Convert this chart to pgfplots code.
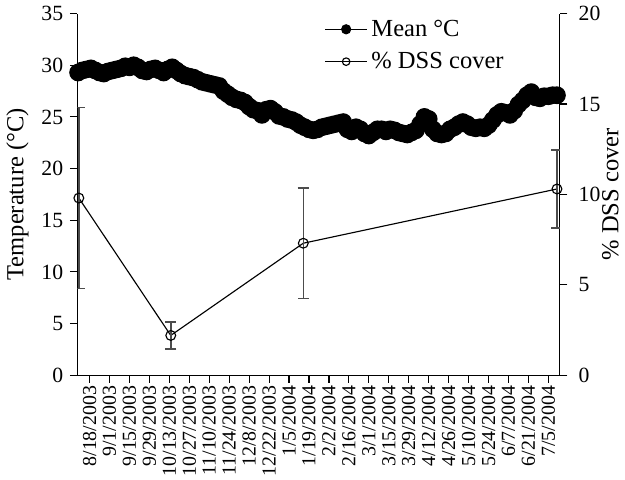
\documentclass[border=0pt]{standalone}
\usepackage{fontspec}
\setmainfont{Liberation Serif}
\usepackage{pgfplots}
\pgfplotsset{compat=1.18}
\usepackage{pgfplotstable}

\pgfplotstableread{
day temp
-8 29.3
-5 29.5
-2 29.6
1 29.7
4 29.5
7 29.3
10 29.2
13 29.4
16 29.5
19 29.6
22 29.7
25 29.9
28 29.8
31 30.0
34 29.8
37 29.5
40 29.4
43 29.6
46 29.7
49 29.5
52 29.3
55 29.6
58 29.8
61 29.5
64 29.2
67 29.0
70 28.9
73 28.8
76 28.6
79 28.4
82 28.3
85 28.2
88 28.1
91 28.0
94 27.5
97 27.2
100 26.9
103 26.7
106 26.6
109 26.4
112 26.0
115 25.7
118 25.6
121 25.2
124 25.7
127 25.8
130 25.5
133 25.1
136 25.0
139 24.8
142 24.7
145 24.5
148 24.2
151 24.0
154 23.8
157 23.7
160 23.8
163 24.0
166 24.1
169 24.2
172 24.3
175 24.4
178 24.5
181 23.8
184 23.6
187 24.0
190 23.8
193 23.4
196 23.2
199 23.5
202 23.8
205 23.8
208 23.6
211 23.8
214 23.7
217 23.5
220 23.4
223 23.3
226 23.5
229 23.7
232 24.3
235 25.0
238 24.8
241 23.8
244 23.4
247 23.3
250 23.4
253 23.8
256 24.0
259 24.3
262 24.5
265 24.3
268 24.0
271 23.9
274 24.0
277 23.9
280 24.2
283 24.7
286 25.2
289 25.5
292 25.4
295 25.2
298 25.6
301 26.2
304 26.6
307 27.1
310 27.4
313 26.9
316 26.8
319 27.0
322 27.0
325 27.1
328 27.1
}\temptable

\pgfplotstableread{
day dss err
-7.5 9.8 5.0
57 2.2 0.75
150 7.3 3.05
328 10.3 2.15
}\dsstable

\pgfplotsset{
  common/.style={
    scale only axis,
    width=255.6pt, height=191.6pt,
    xmin=-8.5, xmax=330,
    tick align=outside,
    major tick length=4pt,
    tick style={black, line width=0.6pt},
    axis line style={line width=0.6pt},
    /pgf/number format/assume math mode=true,
    label style={font=\fontsize{13}{15}\selectfont},
    y tick label style={font=\fontsize{11.5}{13}\selectfont},
  },
  legend image code/.code={\draw[mark repeat=2,mark phase=2,#1] plot coordinates {(0cm,0cm)(0.39cm,0cm)(0.78cm,0cm)};},
}

\begin{document}
\begin{tikzpicture}
\begin{axis}[common,
  axis x line*=bottom, axis y line*=left,
  ymin=0, ymax=35, ytick={0,5,...,35},
  ylabel={Temperature (°C)},
  xtick={0,14,...,322},
  xticklabels={8/18/2003,9/1/2003,9/15/2003,9/29/2003,10/13/2003,10/27/2003,11/10/2003,11/24/2003,12/8/2003,12/22/2003,1/5/2004,1/19/2004,2/2/2004,2/16/2004,3/1/2004,3/15/2004,3/29/2004,4/12/2004,4/26/2004,5/10/2004,5/24/2004,6/7/2004,6/21/2004,7/5/2004},
  x tick label style={rotate=90, anchor=east, inner sep=1.5pt, font=\fontsize{10.5}{12}\selectfont},
]
\addplot[black, mark=*, mark size=4.4pt, line width=0.6pt] table[x=day,y=temp]{\temptable};
\end{axis}
\begin{axis}[common,
  axis x line=none, axis y line*=right,
  ymin=0, ymax=20, ytick={0,5,...,20},
  y tick label style={xshift=2.5pt},
  ylabel={\% DSS cover}, ylabel shift=-6pt,
  legend style={at={(0.5,1.005)}, anchor=north west, draw=none, fill=none,
    font=\fontsize{13}{15}\selectfont, row sep=3pt, cells={anchor=west}},
]
\addlegendimage{black, line width=0.6pt, mark=*, mark size=2.4pt}
\addlegendentry{Mean °C}
\addplot[black, line width=0.6pt, mark=o, mark size=2.6pt,
  legend image post style={mark size=2pt},
  error bars/.cd, y dir=both, y explicit,
  error bar style={black!70, line width=0.8pt},
  error mark options={rotate=90, black!70, mark size=3pt, line width=0.8pt}]
  table[x=day, y=dss, y error=err]{\dsstable};
\addlegendentry{\% DSS cover}
\end{axis}
\end{tikzpicture}
\end{document}
